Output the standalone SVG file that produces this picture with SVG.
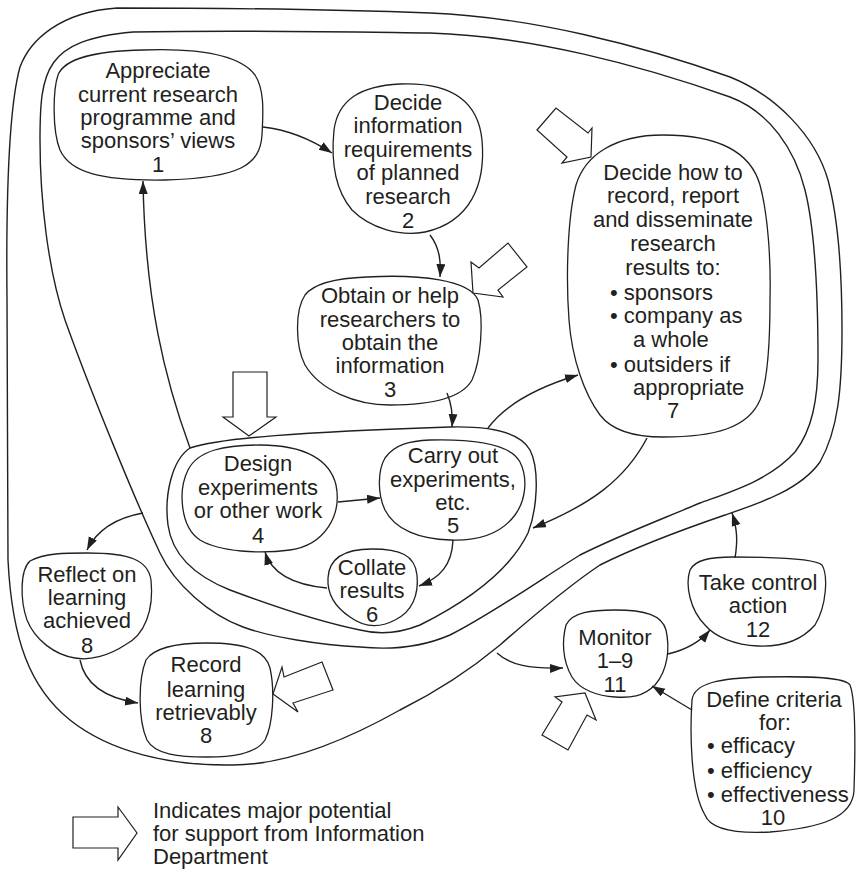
<svg xmlns="http://www.w3.org/2000/svg" width="856" height="869" viewBox="0 0 856 869">
<defs>
<style>
.ln{fill:none;stroke:#231f20;stroke-width:1.4}
.nd{fill:#fff;stroke:#231f20;stroke-width:1.3}
.ba{fill:#fff;stroke:#231f20;stroke-width:1.2;stroke-linejoin:miter}
.cn{fill:none;stroke:#231f20;stroke-width:1.4;marker-end:url(#ah)}
text{font-family:"Liberation Sans",Arial,sans-serif;font-size:22px;fill:#231f20}
.c{text-anchor:middle}
</style>
<marker id="ah" markerUnits="userSpaceOnUse" markerWidth="14" markerHeight="10" refX="13" refY="4.5" orient="auto">
<path d="M0,0 L13,4.5 L0,9 Z" fill="#231f20"/>
</marker>
</defs>
<rect width="856" height="869" fill="#fff"/>

<g id="loops">
<path id="outer-loop" class="ln" d="M117,8 C250,8 350,10 430,13 C530,17 640,45 730,77 C775,95 815,135 828,180 C840,225 842,280 842,330 C842,390 838,430 820,462 C800,490 760,503 725,515 C690,527 640,545 600,565 C570,585 540,610 500,645 C470,670 440,690 400,710 C350,738 290,765 233,765 C170,766 110,752 70,720 C30,688 12,640 8,560 L7,300 C6,200 8,110 20,67 C30,40 60,12 117,8 Z"/>
<path id="middle-loop" class="ln" d="M133,32 C250,30 350,32 430,33 C530,36 640,65 730,97 C770,112 795,150 805,190 C815,230 818,300 818,360 C818,400 812,430 795,452 C770,480 730,492 700,503 C660,520 620,535 580,555 C540,580 490,615 450,635 C420,648 390,650 360,647 C320,645 270,637 243,627 C210,615 175,585 160,553 C135,500 90,390 65,320 C48,270 40,200 40,140 C40,70 45,40 133,32 Z"/>
<path id="inner-loop" class="ln" d="M190,448 C220,438 300,432 450,427 C490,426 520,432 530,450 C540,470 537,510 528,533 C510,570 470,600 420,625 C400,633 380,635 360,630 C320,622 270,605 230,590 C195,576 172,555 168,525 C164,495 172,460 190,448 Z"/>
</g>

<g id="n1">
<path class="nd" d="M143,50 C200,48 240,55 255,75 C265,90 263,115 262,135 C260,165 240,178 165,180 C100,181 70,172 60,150 C52,130 53,90 58,75 C65,58 95,51 143,50 Z"/>
<text class="c" x="158" y="78">Appreciate</text>
<text class="c" x="158" y="102">current research</text>
<text class="c" x="158" y="125">programme and</text>
<text class="c" x="158" y="148">sponsors’ views</text>
<text class="c" x="158" y="172">1</text>
</g>

<g id="n2">
<path class="nd" d="M400,84 C450,82 478,100 482,140 C486,185 470,222 425,232 C400,237 370,228 352,210 C335,190 331,160 334,130 C338,100 360,86 400,84 Z"/>
<text class="c" x="408" y="110">Decide</text>
<text class="c" x="408" y="133">information</text>
<text class="c" x="408" y="157">requirements</text>
<text class="c" x="408" y="180">of planned</text>
<text class="c" x="408" y="204">research</text>
<text class="c" x="408" y="228">2</text>
</g>

<g id="n3">
<path class="nd" d="M367,277 C420,274 470,280 478,300 C484,320 481,360 472,380 C462,398 430,405 390,405 C355,405 320,390 305,365 C295,345 295,310 305,295 C315,282 340,278 367,277 Z"/>
<text class="c" x="390" y="303">Obtain or help</text>
<text class="c" x="390" y="327">researchers to</text>
<text class="c" x="390" y="350">obtain the</text>
<text class="c" x="390" y="373">information</text>
<text class="c" x="390" y="397">3</text>
</g>

<g id="n7">
<path class="nd" d="M663,135 C715,135 750,150 760,185 C768,215 771,260 770,300 C770,340 768,380 760,400 C748,428 715,437 663,437 C630,437 610,428 600,415 C585,395 572,360 569,320 C566,280 567,220 576,185 C585,155 615,135 663,135 Z"/>
<text class="c" x="673" y="180">Decide how to</text>
<text class="c" x="673" y="203">record, report</text>
<text class="c" x="673" y="227">and disseminate</text>
<text class="c" x="673" y="251">research</text>
<text class="c" x="673" y="275">results to:</text>
<text x="610" y="300">• sponsors</text>
<text x="610" y="323">• company as</text>
<text x="633" y="347">a whole</text>
<text x="610" y="372">• outsiders if</text>
<text x="633" y="395">appropriate</text>
<text class="c" x="673" y="418">7</text>
</g>

<g id="n4">
<path class="nd" d="M260,445 C305,445 330,460 336,485 C342,515 325,545 290,550 C260,554 220,552 200,540 C180,527 178,490 188,470 C198,450 225,445 260,445 Z"/>
<text class="c" x="258" y="471">Design</text>
<text class="c" x="258" y="495">experiments</text>
<text class="c" x="258" y="518">or other work</text>
<text class="c" x="258" y="543">4</text>
</g>

<g id="n5">
<path class="nd" d="M430,440 C470,439 510,443 520,462 C528,478 526,500 515,515 C500,535 475,541 450,540 C420,539 395,530 385,510 C377,493 378,470 385,458 C395,444 410,441 430,440 Z"/>
<text class="c" x="453" y="463">Carry out</text>
<text class="c" x="453" y="487">experiments,</text>
<text class="c" x="453" y="510">etc.</text>
<text class="c" x="453" y="533">5</text>
</g>

<g id="n6">
<path class="nd" d="M372,549 C400,549 415,555 417,575 C419,595 412,612 395,620 C380,628 365,628 350,617 C335,607 327,595 328,578 C329,558 345,549 372,549 Z"/>
<text class="c" x="372" y="575">Collate</text>
<text class="c" x="372" y="598">results</text>
<text class="c" x="372" y="622">6</text>
</g>

<g id="n8a">
<path class="nd" d="M87,553 C130,553 148,560 151,580 C154,610 145,635 125,645 C110,655 90,661 75,658 C55,655 35,640 27,620 C20,600 20,570 30,561 C45,553 65,553 87,553 Z"/>
<text class="c" x="87" y="582">Reflect on</text>
<text class="c" x="87" y="605">learning</text>
<text class="c" x="87" y="628">achieved</text>
<text class="c" x="87" y="653">8</text>
</g>

<g id="n8b">
<path class="nd" d="M207,643 C245,643 265,650 270,668 C275,690 273,725 265,740 C255,755 230,757 207,757 C180,757 155,755 147,740 C138,720 138,680 146,660 C155,646 180,643 207,643 Z"/>
<text class="c" x="206" y="672">Record</text>
<text class="c" x="206" y="697">learning</text>
<text class="c" x="206" y="720">retrievably</text>
<text class="c" x="206" y="743">8</text>
</g>

<g id="n11">
<path class="nd" d="M615,610 C645,610 662,615 666,630 C670,648 668,670 655,685 C643,697 630,698 615,697 C598,696 580,690 572,677 C562,660 562,640 566,625 C572,612 592,610 615,610 Z"/>
<text class="c" x="615" y="645">Monitor</text>
<text class="c" x="615" y="668">1–9</text>
<text class="c" x="615" y="692">11</text>
</g>

<g id="n12">
<path class="nd" d="M733,557 C770,557 815,558 822,565 C828,575 827,605 815,625 C800,642 780,647 758,646 C735,645 715,637 705,625 C690,610 685,585 690,570 C695,560 710,557 733,557 Z"/>
<text class="c" x="758" y="590">Take control</text>
<text class="c" x="758" y="613">action</text>
<text class="c" x="758" y="637">12</text>
</g>

<g id="n10">
<path class="nd" d="M763,677 C810,676 845,677 850,685 C856,700 855,760 854,790 C853,818 820,828 770,832 C730,834 710,828 705,815 C690,790 690,730 692,700 C694,683 720,678 763,677 Z"/>
<text class="c" x="774" y="707">Define criteria</text>
<text class="c" x="775" y="730">for:</text>
<text x="707" y="753">• efficacy</text>
<text x="707" y="778">• efficiency</text>
<text x="707" y="802">• effectiveness</text>
<text class="c" x="773" y="825">10</text>
</g>

<g id="connectors">
<path class="cn" d="M263,127 C290,130 312,140 332,153"/>
<path class="cn" d="M190,448 C165,380 145,300 143,181"/>
<path class="cn" d="M430,235 C440,248 441,262 440,277"/>
<path class="cn" d="M447,393 C452,405 453,415 452,427"/>
<path class="cn" d="M488,428 C505,405 535,388 578,375"/>
<path class="cn" d="M647,438 C625,480 590,505 533,528"/>
<path class="cn" d="M338,502 L380,498"/>
<path class="cn" d="M453,540 C452,565 440,578 419,586"/>
<path class="cn" d="M327,588 C295,585 272,575 265,552"/>
<path class="cn" d="M143,513 C115,518 97,530 87,550"/>
<path class="cn" d="M80,660 C85,685 105,698 138,703"/>
<path class="cn" d="M497,653 C510,665 530,669 563,668"/>
<path class="cn" d="M668,654 C685,650 700,642 710,630"/>
<path class="cn" d="M692,710 L652,686"/>
<path class="cn" d="M735,558 C738,540 737,528 732,513"/>
</g>

<g id="support-arrows">
<polygon class="ba" points="537,130 556,108 588,133 592,128 591,157 562,163 567,157"/>
<polygon class="ba" points="473,293 471,262 479,268 508,243 527,267 498,290 503,297"/>
<polygon class="ba" points="233,372 267,372 267,417 276,417 249,436 223,417 233,417"/>
<polygon class="ba" points="273,694 282,667 284,677 322,662 333,690 293,703 298,712"/>
<polygon class="ba" points="585,693 596,720 587,715 568,750 542,735 562,702 555,697"/>
</g>

<g id="legend">
<polygon class="ba" points="73,817 118,817 118,807 137,833 118,860 118,848 73,848"/>
<text x="153" y="818">Indicates major potential</text>
<text x="153" y="841">for support from Information</text>
<text x="153" y="864">Department</text>
</g>
</svg>
